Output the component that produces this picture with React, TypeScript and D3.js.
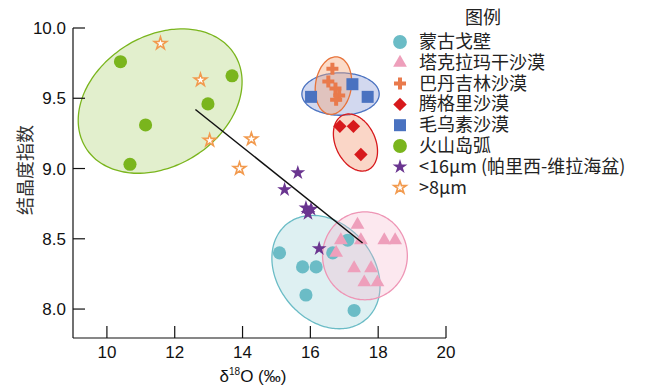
import * as d3 from 'd3';
import React from 'react';

// point data (x = δ18O, y = crystallinity index)
const mongoliaGobi = [[15.09, 8.40], [15.77, 8.30], [16.17, 8.30], [15.87, 8.10], [17.29, 7.99], [16.66, 8.40], [17.10, 8.49]];
const taklimakan = [[17.39, 8.60], [16.90, 8.49], [17.49, 8.49], [18.18, 8.49], [18.50, 8.49], [16.76, 8.40], [17.29, 8.29], [17.79, 8.29], [17.59, 8.19], [17.98, 8.19]];
const badainJaran = [[16.65, 9.71], [16.53, 9.62], [16.74, 9.57], [16.85, 9.52], [16.76, 9.49]];
const tengger = [[16.87, 9.30], [17.27, 9.30], [17.49, 9.10]];
const muUs = [[16.02, 9.51], [17.24, 9.60], [17.69, 9.51]];
const volcanicArc = [[10.40, 9.76], [13.69, 9.66], [12.98, 9.46], [11.14, 9.31], [10.68, 9.03]];
const fine16 = [[15.63, 8.97], [15.24, 8.85], [15.87, 8.72], [16.02, 8.71], [15.93, 8.68], [16.26, 8.43]];
const coarse8 = [[11.58, 9.89], [12.76, 9.63], [13.03, 9.20], [14.26, 9.21], [13.91, 9.00]];

const trendLine = [[12.61, 9.42], [17.54, 8.47]];

// ellipses: centre + two conjugate half-axes, all in data units
const ellipseGreen = { c: [11.57, 9.48], u: [2.194, 0.332], v: [1.012, -0.392] };
const ellipseTeal = { c: [16.46, 8.263], u: [1.172, -0.338], v: [-1.081, -0.220] };
const ellipsePink = { c: [17.61, 8.379], u: [1.25, 0], v: [0, 0.313] };
const ellipseBlue = { c: [16.89, 9.53], u: [1.14, 0], v: [0, 0.151] };
const ellipseOrange = { c: [16.68, 9.59], u: [0.524, -0.018], v: [0.119, 0.204] };
const ellipseRed = { c: [17.33, 9.185], u: [0.373, -0.194], v: [-0.533, -0.060] };

const xTicks = [10, 12, 14, 16, 18, 20];
const yTicks = [8.0, 8.5, 9.0, 9.5, 10.0];

const legendLabels = ['蒙古戈壁', '塔克拉玛干沙漠', '巴丹吉林沙漠', '腾格里沙漠', '毛乌素沙漠', '火山岛弧', '<16μm (帕里西-维拉海盆)', '>8μm'];

const x = d3.scaleLinear().domain([9, 20]).range([73, 446]);
const y = d3.scaleLinear().domain([7.794, 10]).range([338, 28]);

const num = '"Liberation Sans", Arial, sans-serif';
const cjk = '"Noto Sans CJK SC", "Liberation Sans", sans-serif';

const series = [
  { data: mongoliaGobi, type: d3.symbolCircle, size: 135, fill: '#6bbcc6' },
  { data: taklimakan, type: d3.symbolTriangle, size: 82, fill: '#ee9fbb' },
  { data: badainJaran, type: d3.symbolCross, size: 80, fill: '#e97a4c' },
  { data: tengger, type: d3.symbolSquare, size: 90, fill: '#d7191c', rot: 45 },
  { data: muUs, type: d3.symbolSquare, size: 144, fill: '#4a72c0' },
  { data: volcanicArc, type: d3.symbolCircle, size: 135, fill: '#7ab51d' },
  { data: fine16, type: d3.symbolStar, size: 68, fill: '#6a3590' },
  { data: coarse8, type: d3.symbolStar, size: 48, fill: 'white', stroke: '#f29a4e' },
];

const ellipses = [
  { e: ellipseGreen, fill: '#7ab51d', op: 0.22, stroke: '#7ab51d' },
  { e: ellipseTeal, fill: '#7cc3cd', op: 0.25, stroke: '#6bbcc6' },
  { e: ellipsePink, fill: '#f5b3cb', op: 0.3, stroke: '#ee95b5' },
  { e: ellipseBlue, fill: '#7f8fd2', op: 0.35, stroke: '#4a72c0' },
  { e: ellipseOrange, fill: '#f5a676', op: 0.4, stroke: '#e8733a' },
  { e: ellipseRed, fill: '#f4a383', op: 0.45, stroke: '#d7191c' },
];

function ellipsePath(e) {
  const pts = d3.range(0, 2 * Math.PI, Math.PI / 60).map(t => [
    x(e.c[0] + e.u[0] * Math.cos(t) + e.v[0] * Math.sin(t)),
    y(e.c[1] + e.u[1] * Math.cos(t) + e.v[1] * Math.sin(t)),
  ]);
  return d3.line().curve(d3.curveCardinalClosed)(pts);
}

const App = () => {
  const line = d3.line().x(d => x(d[0])).y(d => y(d[1]));

  return (
    <svg width={653} height={388} style={{ position: 'absolute', left: 0, top: 0, background: 'white' }}>
      {/* ellipses */}
      {ellipses.map((el, i) => (
        <path key={i} d={ellipsePath(el.e)} fill={el.fill} fillOpacity={el.op} stroke={el.stroke} strokeWidth={1.3} />
      ))}

      {/* points */}
      {series.map((s, i) => (
        <g key={i}>
          {s.data.map((d, j) => (
            <path key={j}
              d={d3.symbol().type(s.type).size(s.size)()}
              transform={`translate(${x(d[0])},${y(d[1])})${s.rot ? ` rotate(${s.rot})` : ''}`}
              fill={s.fill} stroke={s.stroke || 'none'} strokeWidth={s.stroke ? 1.6 : 0} />
          ))}
        </g>
      ))}

      {/* trend line */}
      <path d={line(trendLine)} stroke="#111" strokeWidth={1.5} fill="none" />

      {/* axes */}
      <g stroke="#111" strokeWidth={1.2}>
        <line x1={x(9)} x2={x(20)} y1={y.range()[0]} y2={y.range()[0]} />
        <line x1={x(9)} x2={x(9)} y1={y.range()[0]} y2={y(10)} />
        {xTicks.map(t => <line key={t} x1={x(t)} x2={x(t)} y1={y.range()[0]} y2={y.range()[0] - 12} />)}
        {yTicks.map(t => <line key={t} x1={x(9)} x2={x(9) + 12} y1={y(t)} y2={y(t)} />)}
      </g>
      <g fontFamily={num} fontSize={17} fill="#111">
        {xTicks.map(t => <text key={t} x={x(t)} y={358} textAnchor="middle">{t}</text>)}
        {yTicks.map(t => <text key={t} x={66} y={y(t) + 6} textAnchor="end">{t.toFixed(1)}</text>)}
        <text x={253} y={382} textAnchor="middle">δ<tspan fontSize={10} dy={-7}>18</tspan><tspan dy={7}>O (‰)</tspan></text>
      </g>
      <text transform="translate(32,170) rotate(-90)" textAnchor="middle" fontFamily={cjk} fontSize={18} fill="#333">结晶度指数</text>

      {/* legend */}
      <text x={483} y={24} textAnchor="middle" fontFamily={cjk} fontSize={18} fill="#222">图例</text>
      {series.map((s, i) => {
        const ly = 42 + i * 20.8;
        return (
          <g key={i}>
            <path d={d3.symbol().type(s.type).size(s.type === d3.symbolCircle ? 150 : s.size)()}
              transform={`translate(400,${ly})${s.rot ? ` rotate(${s.rot})` : ''}`}
              fill={s.fill} stroke={s.stroke || 'none'} strokeWidth={s.stroke ? 1.6 : 0} />
            <text x={419} y={ly + 6} fontFamily={cjk} fontSize={18} fill="#222">{legendLabels[i]}</text>
          </g>
        );
      })}
    </svg>
  );
};

export default App;
